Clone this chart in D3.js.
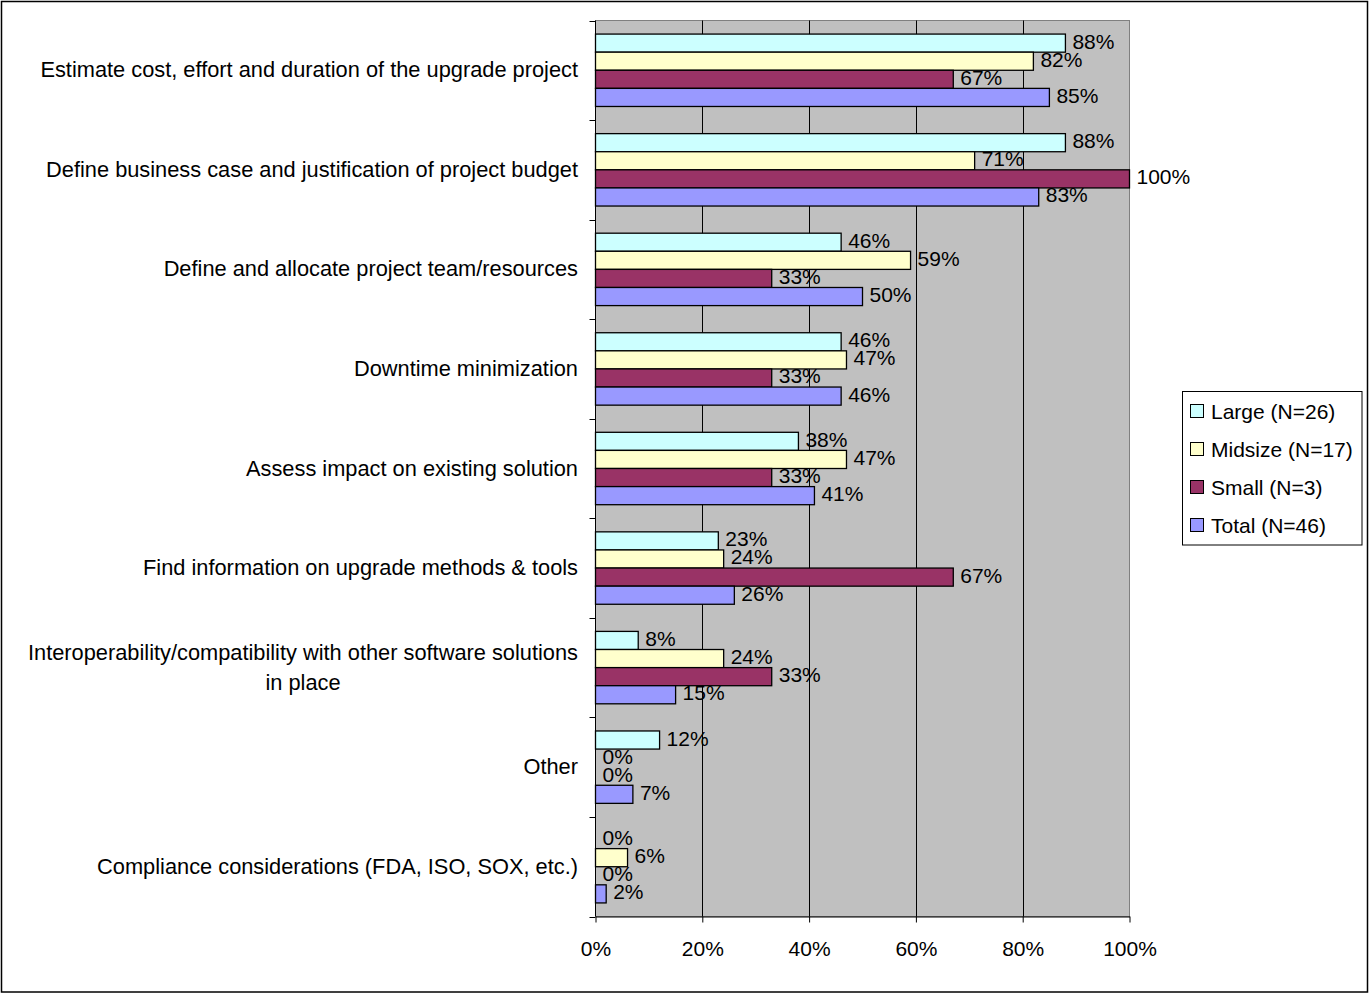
<!DOCTYPE html>
<html>
<head>
<meta charset="utf-8">
<script src="https://cdn.jsdelivr.net/npm/d3@7"></script>
<style>
  html, body { margin: 0; padding: 0; background: #fff; }
  svg { display: block; font-family: "Liberation Sans", Arial, sans-serif; }
</style>
</head>
<body>
<svg id="chart" width="1370" height="994"></svg>
<script>
// Survey categories, top to bottom
const categories = [
  "Estimate cost, effort and duration of the upgrade project",
  "Define business case and justification of project budget",
  "Define and allocate project team/resources",
  "Downtime minimization",
  "Assess impact on existing solution",
  "Find information on upgrade methods & tools",
  "Interoperability/compatibility with other software solutions in place",
  "Other",
  "Compliance considerations (FDA, ISO, SOX, etc.)"
];

// Share of respondents (%) per company size
const large   = [88, 88, 46, 46, 38, 23,  8, 12, 0];
const midsize = [82, 71, 59, 47, 47, 24, 24,  0, 6];
const small   = [67, 100, 33, 33, 33, 67, 33, 0, 0];
const total   = [85, 83, 50, 46, 41, 26, 15,  7, 2];

const seriesNames  = ["Large (N=26)", "Midsize (N=17)", "Small (N=3)", "Total (N=46)"];
const seriesColors = ["#CCFFFF", "#FFFFCC", "#993366", "#9999FF"];
const xTicks = [0, 20, 40, 60, 80, 100];

const seriesValues = [large, midsize, small, total];
const series = seriesNames.map((name, i) => ({ name, color: seriesColors[i], values: seriesValues[i] }));

const svg = d3.select("#chart");
const FONT = 21;
const CAT_FONT = 21.8;

// outer frame
svg.append("rect")
  .attr("x", 1.5).attr("y", 1.5).attr("width", 1366).attr("height", 990.5)
  .attr("fill", "#fff").attr("stroke", "#000").attr("stroke-width", 1.5);

const plot = { left: 595.5, right: 1129.5, top: 20.5, bottom: 916.5 };

const x = d3.scaleLinear().domain([0, 100]).range([plot.left, plot.right]);
const y0 = d3.scaleBand().domain(categories).range([plot.top, plot.bottom]).padding(0);
const y1 = d3.scaleBand().domain(seriesNames).range([0, y0.bandwidth()])
  .paddingInner(0).paddingOuter(0.75);

// plot background
svg.append("rect")
  .attr("x", plot.left).attr("y", plot.top)
  .attr("width", plot.right - plot.left).attr("height", plot.bottom - plot.top)
  .attr("fill", "#C0C0C0").attr("stroke", "#808080").attr("stroke-width", 1);

// vertical gridlines
svg.append("g").selectAll("line")
  .data(xTicks.filter(t => t > 0 && t < 100))
  .join("line")
  .attr("x1", d => Math.round(x(d)) + 0.5).attr("x2", d => Math.round(x(d)) + 0.5)
  .attr("y1", plot.top).attr("y2", plot.bottom)
  .attr("stroke", "#000").attr("stroke-width", 1);

// bottom axis
const xAxis = d3.axisBottom(x)
  .tickValues(xTicks)
  .tickFormat(d => d + "%")
  .tickSize(6)
  .tickPadding(19)
  .tickSizeOuter(0);
const gx = svg.append("g")
  .attr("transform", `translate(0,${plot.bottom})`)
  .call(xAxis);
gx.select(".domain").attr("stroke", "#000");
gx.selectAll(".tick line").attr("stroke", "#000");
gx.selectAll(".tick text")
  .attr("font-size", FONT).attr("font-family", '"Liberation Sans", Arial, sans-serif')
  .attr("fill", "#000");

// left axis line and ticks at category boundaries
const gy = svg.append("g");
gy.append("line")
  .attr("x1", plot.left).attr("x2", plot.left)
  .attr("y1", plot.top).attr("y2", plot.bottom)
  .attr("stroke", "#000");
const boundaries = categories.map(c => y0(c)).concat([y0.range()[1]]);
gy.selectAll("line.tick")
  .data(boundaries)
  .join("line")
  .attr("class", "tick")
  .attr("x1", plot.left - 6).attr("x2", plot.left)
  .attr("y1", d => Math.round(d) + 0.5).attr("y2", d => Math.round(d) + 0.5)
  .attr("stroke", "#000");

// category labels (wrapped when too long, lines centred on each other)
const labelRight = 578;
const maxLabelWidth = 565;
const catG = svg.append("g")
  .attr("font-size", CAT_FONT).attr("fill", "#000");
categories.forEach(cat => {
  const cy = y0(cat) + y0.bandwidth() / 2;
  const probe = catG.append("text").text(cat);
  let lines = [cat];
  if (probe.node().getComputedTextLength() > maxLabelWidth) {
    const words = cat.split(" ");
    lines = [];
    let cur = [];
    words.forEach(w => {
      cur.push(w);
      probe.text(cur.join(" "));
      if (probe.node().getComputedTextLength() > maxLabelWidth && cur.length > 1) {
        cur.pop();
        lines.push(cur.join(" "));
        cur = [w];
      }
    });
    if (cur.length) lines.push(cur.join(" "));
  }
  probe.remove();
  const lineH = 30;
  if (lines.length === 1) {
    catG.append("text")
      .attr("x", labelRight).attr("y", cy + 7)
      .attr("text-anchor", "end")
      .text(cat);
  } else {
    const widths = lines.map(l => {
      const t = catG.append("text").text(l);
      const w = t.node().getComputedTextLength();
      t.remove();
      return w;
    });
    const cx = labelRight - d3.max(widths) / 2;
    lines.forEach((l, i) => {
      catG.append("text")
        .attr("x", cx)
        .attr("y", cy + 7 + (i - (lines.length - 1) / 2) * lineH)
        .attr("text-anchor", "middle")
        .text(l);
    });
  }
});

// bars
const groups = svg.append("g").selectAll("g")
  .data(categories)
  .join("g")
  .attr("transform", d => `translate(0,${y0(d)})`);

const cells = groups.selectAll("g.cell")
  .data((cat, ci) => series.map(s => ({ cat, name: s.name, color: s.color, value: s.values[ci] })))
  .join("g").attr("class", "cell");

cells.filter(d => d.value > 0).append("rect")
  .attr("x", x(0))
  .attr("y", d => y1(d.name))
  .attr("width", d => x(d.value) - x(0))
  .attr("height", y1.bandwidth())
  .attr("fill", d => d.color)
  .attr("stroke", "#000").attr("stroke-width", 1.3);

// value labels
cells.append("text")
  .attr("x", d => x(d.value) + 7)
  .attr("y", d => y1(d.name) + y1.bandwidth() / 2 + 5.5)
  .attr("font-size", FONT).attr("fill", "#000")
  .text(d => d.value + "%");

// legend
const legend = svg.append("g");
legend.append("rect")
  .attr("x", 1182.5).attr("y", 391.5).attr("width", 179.5).attr("height", 153.5)
  .attr("fill", "#fff").attr("stroke", "#000").attr("stroke-width", 1);
const items = legend.selectAll("g.item")
  .data(series)
  .join("g").attr("class", "item")
  .attr("transform", (d, i) => `translate(1190,${411 + i * 38})`);
items.append("rect")
  .attr("x", 0.5).attr("y", -6.5).attr("width", 13).attr("height", 13)
  .attr("fill", d => d.color).attr("stroke", "#000").attr("stroke-width", 1);
items.append("text")
  .attr("x", 21).attr("y", 7.5)
  .attr("font-size", FONT).attr("fill", "#000")
  .text(d => d.name);
</script>
</body>
</html>
